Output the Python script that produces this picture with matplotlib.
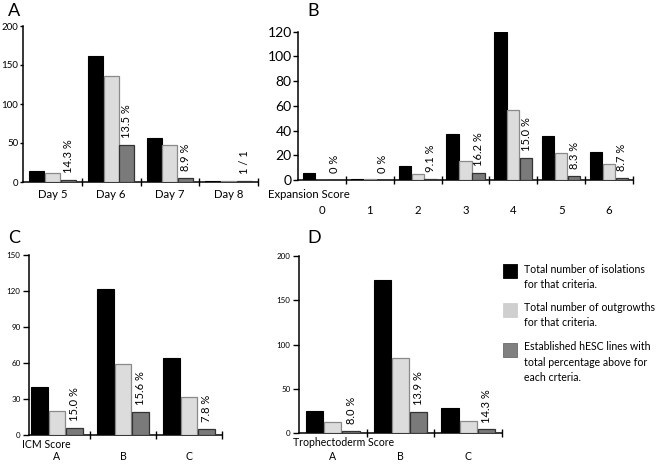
import matplotlib
matplotlib.use("Agg")
import matplotlib.pyplot as plt
from matplotlib.patches import Rectangle
import matplotlib.transforms as mtransforms

plt.rcParams['font.family'] = ['Lato', 'DejaVu Sans']

# ---------------- data ----------------
day_labels = ['Day 5', 'Day 6', 'Day 7', 'Day 8']
day_isolations = [14, 162, 56, 1]
day_outgrowths = [11, 136, 48, 1]
day_lines = [2, 48, 5, 1]
day_pct = ['14.3 %', '13.5 %', '8.9 %', '1 / 1']

exp_labels = ['0', '1', '2', '3', '4', '5', '6']
exp_isolations = [6, 1, 11, 37, 120, 36, 23]
exp_outgrowths = [0, 1, 5, 15, 57, 22, 13]
exp_lines = [0, 0, 1, 6, 18, 3, 2]
exp_pct = ['0 %', '0 %', '9.1 %', '16.2 %', '15.0 %', '8.3 %', '8.7 %']

icm_labels = ['A', 'B', 'C']
icm_isolations = [40, 122, 64]
icm_outgrowths = [20, 59, 32]
icm_lines = [6, 19, 5]
icm_pct = ['15.0 %', '15.6 %', '7.8 %']

te_labels = ['A', 'B', 'C']
te_isolations = [25, 173, 28]
te_outgrowths = [12, 85, 14]
te_lines = [2, 24, 4]
te_pct = ['8.0 %', '13.9 %', '14.3 %']

legend_texts = ['Total number of isolations\nfor that criteria.',
                'Total number of outgrowths\nfor that criteria.',
                'Established hESC lines with\ntotal percentage above for\neach crteria.']

# ---------------- style ----------------
W, H = 662, 470
C_BLACK, E_BLACK = '#000000', '#000000'
C_LIGHT, E_LIGHT = '#dcdcdc', '#8a8a8a'
C_DARK, E_DARK = '#7a7a7a', '#333333'

fig = plt.figure(figsize=(W / 100, H / 100), dpi=100)


def rect_px(x0, x1, ybot, ytop):
    return [x0 / W, 1 - ybot / H, (x1 - x0) / W, (ybot - ytop) / H]


def panel(rect, xleft, cats, isol, outg, lines, pct, ymax, yticks, ytick_fs,
          cat_dy, title, title_dx, title_dy, fs_cat=8.5, ytick_len=2.5, ytick_pad=1.0):
    ax = fig.add_axes(rect)
    n = len(cats)
    x = [i + 0.5 for i in range(n)]
    bw, off = 0.255, 0.27
    ax.bar([v - off for v in x], isol, bw, color=C_BLACK, edgecolor=E_BLACK, linewidth=0.8, zorder=3)
    ax.bar(x, outg, bw, color=C_LIGHT, edgecolor=E_LIGHT, linewidth=0.9, zorder=3)
    ax.bar([v + off for v in x], lines, bw, color=C_DARK, edgecolor=E_DARK, linewidth=0.9, zorder=3)
    for xi, h, t in zip(x, lines, pct):
        ax.annotate(t, (xi + off, h), xytext=(0, 5), textcoords='offset points',
                    rotation=90, ha='center', va='bottom', fontsize=8)
    ax.set_xlim(xleft, n)
    ax.set_ylim(0, ymax)
    ax.set_yticks(yticks)
    ax.tick_params(axis='y', direction='out', length=ytick_len, width=1.0, pad=ytick_pad,
                   labelsize=ytick_fs)
    ax.set_xticks(x)
    ax.set_xticklabels([])
    ax.tick_params(axis='x', which='major', length=0)
    ax.set_xticks(list(range(1, n + 1)), minor=True)
    ax.tick_params(axis='x', which='minor', direction='inout', length=6, width=1.0)
    for s in ['top', 'right']:
        ax.spines[s].set_visible(False)
    for s in ['left', 'bottom']:
        ax.spines[s].set_linewidth(1.1)
    ax.patch.set_alpha(0)
    axh = rect[3] * H
    axw = rect[2] * W
    tr = mtransforms.blended_transform_factory(ax.transData, ax.transAxes)
    for xi, c in zip(x, cats):
        ax.text(xi, -cat_dy / axh, c, transform=tr, ha='center', va='center', fontsize=fs_cat)
    if title:
        ax.text(title_dx / axw, -title_dy / axh, title, transform=ax.transAxes,
                ha='left', va='center', fontsize=fs_cat)
    return ax


# A
panel(rect_px(23, 258, 182, 26), 0, day_labels, day_isolations, day_outgrowths, day_lines,
      day_pct, 200, [0, 50, 100, 150, 200], 7, 12, None, 0, 0, fs_cat=8.2)
# B
panel(rect_px(298, 633, 180, 31.7), 0, exp_labels, exp_isolations, exp_outgrowths, exp_lines,
      exp_pct, 120, [0, 20, 40, 60, 80, 100, 120], 10, 30, 'Expansion Score', -30, 15,
      fs_cat=8.2, ytick_len=3.5)
# C
panel(rect_px(29, 222, 435, 255), 0.076, icm_labels, icm_isolations, icm_outgrowths, icm_lines,
      icm_pct, 150, [0, 30, 60, 90, 120, 150], 5.8, 21, 'ICM Score', -7, 9, fs_cat=7.6,
      ytick_len=4, ytick_pad=2)
# D
panel(rect_px(299, 502, 433, 256), 0, te_labels, te_isolations, te_outgrowths, te_lines,
      te_pct, 200, [0, 50, 100, 150, 200], 5.8, 23, 'Trophectoderm Score', -6, 10, fs_cat=7.6,
      ytick_len=4, ytick_pad=2)

# panel letters
for letter, px, py in [('A', 8, 11), ('B', 307, 11), ('C', 8, 238), ('D', 307, 238)]:
    fig.text(px / W, 1 - py / H, letter, fontsize=13, ha='left', va='center')

# legend
leg_faces = [C_BLACK, '#cfcfcf', '#808080']
leg_edges = ['#000000', '#cfcfcf', '#6a6a6a']
leg_sq_y = [264, 303, 343]
leg_txt_y = [277, 315, 362]
for fc, ec, sy, ty, t in zip(leg_faces, leg_edges, leg_sq_y, leg_txt_y, legend_texts):
    fig.add_artist(Rectangle((503 / W, 1 - (sy + 14) / H), 14 / W, 14 / H,
                             transform=fig.transFigure, facecolor=fc, edgecolor=ec, linewidth=0.6))
    fig.text(524 / W, 1 - ty / H, t, fontsize=7.6, ha='left', va='center', linespacing=1.45)

fig.savefig('out.png', dpi=100)
